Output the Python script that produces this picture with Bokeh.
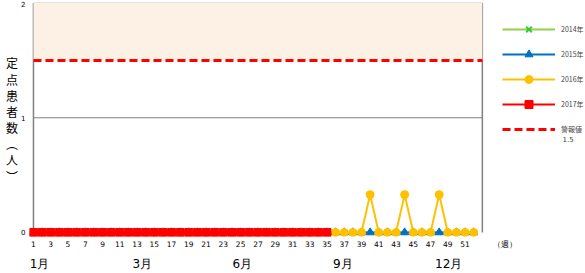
from bokeh.plotting import figure
from bokeh.models import (Range1d, FixedTicker, Label, Legend, LegendItem, BoxAnnotation,
                          LinearAxis, CustomJSTickFormatter)
from bokeh.embed import file_html
from bokeh.resources import INLINE

weeks = list(range(1, 53))
y2014 = [0, 0, 0, 0, 0, 0, 0, 0, 0, 0, 0, 0, 0, 0, 0, 0, 0, 0, 0, 0, 0, 0, 0, 0, 0, 0,
         0, 0, 0, 0, 0, 0, 0, 0, 0, 0, 0, 0, 0, 0, 0, 0, 0, 0, 0, 0, 0, 0, 0, 0, 0, 0]
y2015 = [0, 0, 0, 0, 0, 0, 0, 0, 0, 0, 0, 0, 0, 0, 0, 0, 0, 0, 0, 0, 0, 0, 0, 0, 0, 0,
         0, 0, 0, 0, 0, 0, 0, 0, 0, 0, 0, 0, 0, 0, 0, 0, 0, 0, 0, 0, 0, 0, 0, 0, 0, 0]
y2016 = [0, 0, 0, 0, 0, 0, 0, 0, 0, 0, 0, 0, 0, 0, 0, 0, 0, 0, 0, 0, 0, 0, 0, 0, 0, 0,
         0, 0, 0, 0, 0, 0, 0, 0, 0, 0, 0, 0, 0, 0.33, 0, 0, 0, 0.33, 0, 0, 0, 0.33, 0, 0, 0, 0]
weeks2017 = list(range(1, 36))
y2017 = [0, 0, 0, 0, 0, 0, 0, 0, 0, 0, 0, 0, 0, 0, 0, 0, 0, 0, 0, 0, 0, 0, 0, 0, 0, 0,
         0, 0, 0, 0, 0, 0, 0, 0, 0]
alert_value = 1.5
y_max = 2
x_tick_labels = list(range(1, 52, 2))
x_unit_label = "（週）"
y_ticks = [0, 1, 2]
y_title = "定点患者数（人）"
month_labels = ["1月", "3月", "6月", "9月", "12月"]
month_weeks = [1.7, 13.6, 25.2, 36.85, 49.1]

JP = "Noto Sans CJK JP"
LAT = "DejaVu Sans"
GRAY = "#808080"
X_END = 53          # right edge of the plotting area (week axis)
X_VIEW_END = 64.95  # frame continues to the right for the legend

p = figure(width=585, height=273, output_backend="svg", toolbar_location=None,
           x_range=Range1d(0.54, X_VIEW_END), y_range=Range1d(-0.035, 2.005),
           min_border_left=29, min_border_right=0, min_border_top=2, min_border_bottom=36)
p.outline_line_color = None
p.background_fill_color = "white"
p.xgrid.visible = False
p.ygrid.visible = False

# warning zone
p.add_layout(BoxAnnotation(left=1, right=X_END, bottom=alert_value, top=y_max,
                           fill_color="#FDF1E6", fill_alpha=1.0, line_color=None, level="underlay"))

# horizontal gridlines (only over the plotting area)
grid_vals = [v for v in y_ticks if v > 0]
p.segment(x0=[1] * len(grid_vals), x1=[X_END] * len(grid_vals), y0=grid_vals, y1=grid_vals,
          line_color=GRAY, line_width=1, level="underlay")
# borders of the plotting area
p.segment(x0=[1, X_END], x1=[1, X_END], y0=[0, 0], y1=[y_max, y_max],
          line_color=GRAY, line_width=1.5, level="underlay")

# x axis (weeks)
tick_texts = [str(w) for w in x_tick_labels] + [x_unit_label]
p.xaxis.ticker = FixedTicker(ticks=x_tick_labels + [55.6])
p.xaxis.formatter = CustomJSTickFormatter(args=dict(labels=tick_texts), code="return labels[index];")
p.xaxis.axis_line_color = None
p.xaxis.major_tick_line_color = None
p.xaxis.major_tick_out = 0
p.xaxis.major_tick_in = 0
p.xaxis.minor_tick_line_color = None
p.xaxis.minor_tick_out = 0
p.xaxis.major_label_text_font = LAT
p.xaxis.major_label_text_font_size = "7.5px"
p.xaxis.major_label_text_color = "#000000"
p.xaxis.major_label_standoff = 3

# month axis
maxis = LinearAxis(ticker=FixedTicker(ticks=month_weeks),
                   formatter=CustomJSTickFormatter(args=dict(labels=month_labels),
                                                   code="return labels[index];"))
maxis.axis_line_color = None
maxis.major_tick_line_color = None
maxis.major_tick_out = 0
maxis.major_tick_in = 0
maxis.minor_tick_line_color = None
maxis.minor_tick_out = 0
maxis.major_label_text_font = LAT
maxis.major_label_text_font_size = "12px"
maxis.major_label_text_color = "#000000"
maxis.major_label_standoff = 5
p.add_layout(maxis, "below")

# y axis
p.yaxis.ticker = FixedTicker(ticks=y_ticks)
p.yaxis.axis_line_color = None
p.yaxis.major_tick_line_color = None
p.yaxis.major_tick_out = 0
p.yaxis.major_tick_in = 0
p.yaxis.minor_tick_line_color = None
p.yaxis.minor_tick_out = 0
p.yaxis.major_label_text_font = LAT
p.yaxis.major_label_text_font_size = "7px"
p.yaxis.major_label_text_color = "#000000"
p.yaxis.major_label_standoff = 4
p.yaxis.axis_label = "\n".join(y_title.replace("（", "︵").replace("）", "︶"))
p.yaxis.axis_label_orientation = "horizontal"
p.yaxis.axis_label_text_font = JP
p.yaxis.axis_label_text_font_size = "12px"
p.yaxis.axis_label_text_font_style = "normal"
p.yaxis.axis_label_text_color = "#000000"
p.yaxis.axis_label_text_line_height = 0.95
p.yaxis.axis_label_standoff = 0

# series
l14 = p.line(weeks, y2014, line_color="#92D050", line_width=2)
m14 = p.scatter(weeks, y2014, marker="x", size=6, line_color="#33CC33", line_width=2)
l15 = p.line(weeks, y2015, line_color="#0070C0", line_width=2)
m15 = p.scatter(weeks, y2015, marker="triangle", size=8, fill_color="#0070C0", line_color="#0070C0")
l16 = p.line(weeks, y2016, line_color="#FFC000", line_width=2)
m16 = p.scatter(weeks, y2016, marker="circle", size=8, fill_color="#FFC000", line_color="#FFC000")
l17 = p.line(weeks2017, y2017, line_color="#FF0000", line_width=2)
m17 = p.scatter(weeks2017, y2017, marker="square", size=8, fill_color="#FF0000", line_color="#FF0000")
la = p.line([1, X_END], [alert_value, alert_value], line_color="#FF0000", line_width=3, line_dash="8 4")

legend = Legend(items=[
    LegendItem(label="2014年", renderers=[l14, m14]),
    LegendItem(label="2015年", renderers=[l15, m15]),
    LegendItem(label="2016年", renderers=[l16, m16]),
    LegendItem(label="2017年", renderers=[l17, m17]),
    LegendItem(label="警報値", renderers=[la]),
], location=(473, 97))
legend.glyph_width = 53
legend.glyph_height = 20
legend.spacing = 5
legend.padding = 0
legend.margin = 0
legend.label_standoff = 6
legend.label_text_font = JP
legend.label_text_font_size = "7px"
legend.label_height = 20
legend.border_line_color = None
legend.background_fill_alpha = 0
p.add_layout(legend, "center")

p.add_layout(Label(x=533, y=98, x_units="screen", y_units="screen", text=str(alert_value),
                   text_font=LAT, text_font_size="7px", text_baseline="middle"))

open("out.html", "w").write(file_html(p, INLINE))
